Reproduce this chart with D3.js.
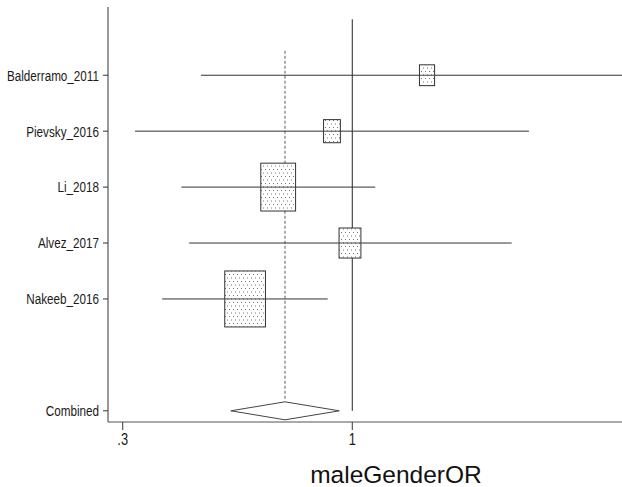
<!DOCTYPE html>
<html>
<head>
<meta charset="utf-8">
<script src="https://cdn.jsdelivr.net/npm/d3@7/dist/d3.min.js"></script>
<style>
  html, body { margin: 0; padding: 0; background: #fff; }
  svg { display: block; }
</style>
</head>
<body>
<svg id="chart" width="622" height="487"></svg>
<script>
// ---- data ----
const studies   = ["Balderramo_2011", "Pievsky_2016", "Li_2018", "Alvez_2017", "Nakeeb_2016"];
const orValues  = [1.48, 0.899, 0.678, 0.988, 0.570];
const ciLower   = [0.452, 0.320, 0.408, 0.425, 0.369];
const ciUpper   = [4.12, 2.526, 1.128, 2.307, 0.879];
const weights   = [6.0, 7.4, 31.7, 12.5, 43.4];
const combinedLabel = "Combined";
const combined  = [0.7026, 0.529, 0.934]; // estimate, lower, upper
const xTicks    = [0.3, 1];
const xTickLabels = [".3", "1"];
const xTitle    = "maleGenderOR";

(function () {
// ---- layout ----
const svg = d3.select("#chart");
const pLeft = 108, pRight = 622, pTop = 7, pBottom = 422;
const narrow = 0.78;
const fam = "'Liberation Sans', Arial, sans-serif";

const x = d3.scaleLog().domain([0.2777, 4.115]).range([pLeft, pRight]);
const y = d3.scaleLinear().domain([-0.22, 7.2]).range([pTop, pBottom]);

const rows = studies.map((s, i) => ({
  name: s, or: orValues[i], lo: ciLower[i], hi: ciUpper[i], w: weights[i], row: i + 1
}));
const combRow = studies.length + 2;

// pattern for boxes
const defs = svg.append("defs");
const pat = defs.append("pattern")
  .attr("id", "dots").attr("patternUnits", "userSpaceOnUse")
  .attr("width", 8).attr("height", 7);
pat.append("rect").attr("width", 8).attr("height", 7).attr("fill", "#fff");
[[1,1],[5,1],[3,4.5],[7,4.5]].forEach(([cx, cy]) =>
  pat.append("rect").attr("x", cx).attr("y", cy).attr("width", 1).attr("height", 1).attr("fill", "#777"));

defs.append("clipPath").attr("id", "plotclip")
  .append("rect").attr("x", pLeft).attr("y", 0).attr("width", pRight - pLeft).attr("height", pBottom);

const plot = svg.append("g").attr("clip-path", "url(#plotclip)");

// null line at 1
plot.append("line")
  .attr("x1", x(1)).attr("x2", x(1))
  .attr("y1", y(0)).attr("y2", y(combRow))
  .attr("stroke", "#222").attr("stroke-width", 1);

// dashed line at combined estimate
plot.append("line")
  .attr("x1", x(combined[0])).attr("x2", x(combined[0]))
  .attr("y1", y(0.56)).attr("y2", y(combRow) - 10)
  .attr("stroke", "#777").attr("stroke-width", 1.2)
  .attr("stroke-dasharray", "3,2");

// CI lines
plot.selectAll(".ci").data(rows).enter().append("line")
  .attr("class", "ci")
  .attr("x1", d => x(d.lo)).attr("x2", d => x(d.hi))
  .attr("y1", d => y(d.row)).attr("y2", d => y(d.row))
  .attr("stroke", "#333").attr("stroke-width", 1);

// boxes
const kw = 6.18, kh = 8.5;
plot.selectAll(".box").data(rows).enter().append("rect")
  .attr("class", "box")
  .attr("x", d => x(d.or) - kw * Math.sqrt(d.w) / 2)
  .attr("y", d => y(d.row) - kh * Math.sqrt(d.w) / 2)
  .attr("width", d => kw * Math.sqrt(d.w))
  .attr("height", d => kh * Math.sqrt(d.w))
  .attr("fill", "url(#dots)")
  .attr("stroke", "#333").attr("stroke-width", 1);

// CI line drawn over the boxes
plot.selectAll(".ci2").data(rows).enter().append("line")
  .attr("x1", d => Math.max(x(d.lo), x(d.or) - kw * Math.sqrt(d.w) / 2))
  .attr("x2", d => Math.min(x(d.hi), x(d.or) + kw * Math.sqrt(d.w) / 2))
  .attr("y1", d => y(d.row)).attr("y2", d => y(d.row))
  .attr("stroke", "#444").attr("stroke-width", 1);

// diamond
const dcy = y(combRow), dh = 9;
plot.append("path")
  .attr("d", `M${x(combined[1])},${dcy} L${x(combined[0])},${dcy - dh} L${x(combined[2])},${dcy} L${x(combined[0])},${dcy + dh} Z`)
  .attr("fill", "#fff").attr("stroke", "#444").attr("stroke-width", 1);

// axes
const yAxisG = svg.append("g");
yAxisG.append("line").attr("x1", pLeft).attr("x2", pLeft).attr("y1", pTop).attr("y2", pBottom)
  .attr("stroke", "#555").attr("stroke-width", 1.2);
const yItems = rows.map(d => ({ name: d.name, row: d.row })).concat([{ name: combinedLabel, row: combRow }]);
yAxisG.selectAll(".yt").data(yItems).enter().append("line")
  .attr("x1", pLeft - 5).attr("x2", pLeft).attr("y1", d => y(d.row)).attr("y2", d => y(d.row))
  .attr("stroke", "#333");
yAxisG.selectAll(".yl").data(yItems).enter().append("text")
  .attr("transform", d => `translate(${pLeft - 9},${y(d.row)}) scale(${narrow},1)`)
  .attr("dy", "0.36em")
  .attr("text-anchor", "end")
  .attr("font-family", fam)
  .attr("font-size", 15).attr("fill", "#1a1a1a")
  .text(d => d.name);

const xAxisG = svg.append("g");
xAxisG.append("line").attr("x1", pLeft).attr("x2", pRight).attr("y1", pBottom).attr("y2", pBottom)
  .attr("stroke", "#555").attr("stroke-width", 1.2);
xAxisG.selectAll(".xt").data(xTicks).enter().append("line")
  .attr("x1", d => x(d)).attr("x2", d => x(d)).attr("y1", pBottom).attr("y2", pBottom + 8)
  .attr("stroke", "#333");
xAxisG.selectAll(".xl").data(xTicks).enter().append("text")
  .attr("transform", d => `translate(${x(d)},445) scale(${narrow},1)`)
  .attr("text-anchor", "middle")
  .attr("font-family", fam)
  .attr("font-size", 16.5).attr("fill", "#1a1a1a")
  .text((d, i) => xTickLabels[i]);

svg.append("text")
  .attr("x", 396).attr("y", 483)
  .attr("text-anchor", "middle")
  .attr("font-family", fam)
  .attr("font-size", 24.5).attr("fill", "#111")
  .text(xTitle);
})();
</script>
</body>
</html>
